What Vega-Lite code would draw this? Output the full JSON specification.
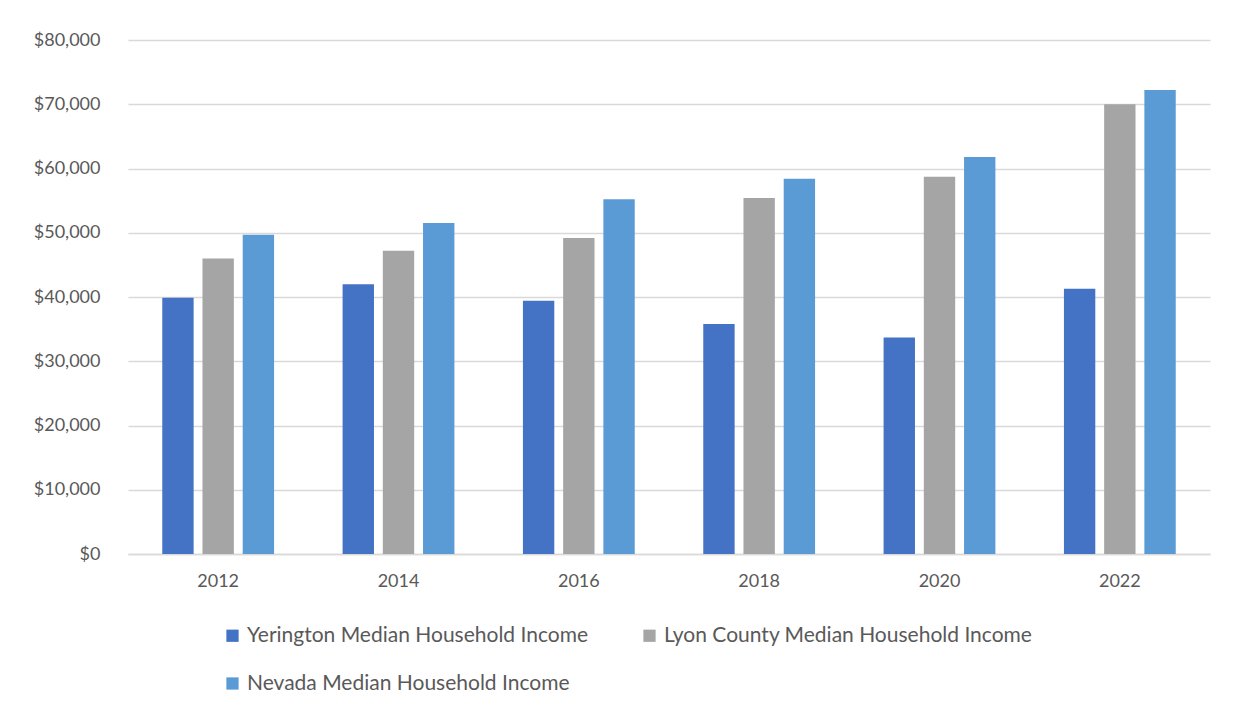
{
  "$schema": "https://vega.github.io/schema/vega-lite/v6.json",
  "width": 1082,
  "height": 514,
  "autosize": {"type": "none"},
  "padding": {"left": 128, "top": 40, "right": 32, "bottom": 159},
  "background": "white",
  "config": {
    "view": {"stroke": null},
    "font": "Lato",
    "axis": {"labelFont": "Lato", "labelColor": "#595959", "labelFontSize": 18},
    "legend": {"labelFont": "Lato", "labelColor": "#595959", "labelFontSize": 21}
  },
  "data": {
    "values": [
      {"year": "2012", "series": "Yerington Median Household Income", "income": 39900},
      {"year": "2012", "series": "Lyon County Median Household Income", "income": 46000},
      {"year": "2012", "series": "Nevada Median Household Income", "income": 49700},
      {"year": "2014", "series": "Yerington Median Household Income", "income": 42000},
      {"year": "2014", "series": "Lyon County Median Household Income", "income": 47200},
      {"year": "2014", "series": "Nevada Median Household Income", "income": 51500},
      {"year": "2016", "series": "Yerington Median Household Income", "income": 39400},
      {"year": "2016", "series": "Lyon County Median Household Income", "income": 49200},
      {"year": "2016", "series": "Nevada Median Household Income", "income": 55200},
      {"year": "2018", "series": "Yerington Median Household Income", "income": 35800},
      {"year": "2018", "series": "Lyon County Median Household Income", "income": 55400},
      {"year": "2018", "series": "Nevada Median Household Income", "income": 58400},
      {"year": "2020", "series": "Yerington Median Household Income", "income": 33700},
      {"year": "2020", "series": "Lyon County Median Household Income", "income": 58700},
      {"year": "2020", "series": "Nevada Median Household Income", "income": 61800},
      {"year": "2022", "series": "Yerington Median Household Income", "income": 41300},
      {"year": "2022", "series": "Lyon County Median Household Income", "income": 70000},
      {"year": "2022", "series": "Nevada Median Household Income", "income": 72200}
    ]
  },
  "mark": {"type": "bar"},
  "encoding": {
    "x": {
      "field": "year", "type": "nominal",
      "scale": {"paddingInner": 0.38, "paddingOuter": 0.19},
      "axis": {"title": null, "labelAngle": 0, "ticks": false, "domainColor": "#d9d9d9", "domainWidth": 1.5, "labelPadding": 18, "grid": false}
    },
    "xOffset": {
      "field": "series", "type": "nominal",
      "sort": ["Yerington Median Household Income", "Lyon County Median Household Income", "Nevada Median Household Income"],
      "scale": {"paddingInner": 0.22, "paddingOuter": 0}
    },
    "y": {
      "field": "income", "type": "quantitative",
      "scale": {"domain": [0, 80000]},
      "axis": {"title": null, "values": [0,10000,20000,30000,40000,50000,60000,70000,80000], "format": "$,.0f", "labelOverlap": false, "ticks": false, "domain": false, "labelPadding": 28, "gridColor": "#d9d9d9", "gridWidth": 1.5}
    },
    "color": {
      "field": "series", "type": "nominal",
      "sort": ["Yerington Median Household Income", "Lyon County Median Household Income", "Nevada Median Household Income"],
      "scale": {"range": ["#4472C4", "#A5A5A5", "#5B9BD5"]},
      "legend": {"title": null, "orient": "none", "legendX": 94, "legendY": 585, "columns": 2, "direction": "horizontal", "symbolType": "square", "symbolSize": 150, "rowPadding": 26, "columnPadding": 50, "labelOffset": 4, "labelLimit": 600}
    }
  }
}
